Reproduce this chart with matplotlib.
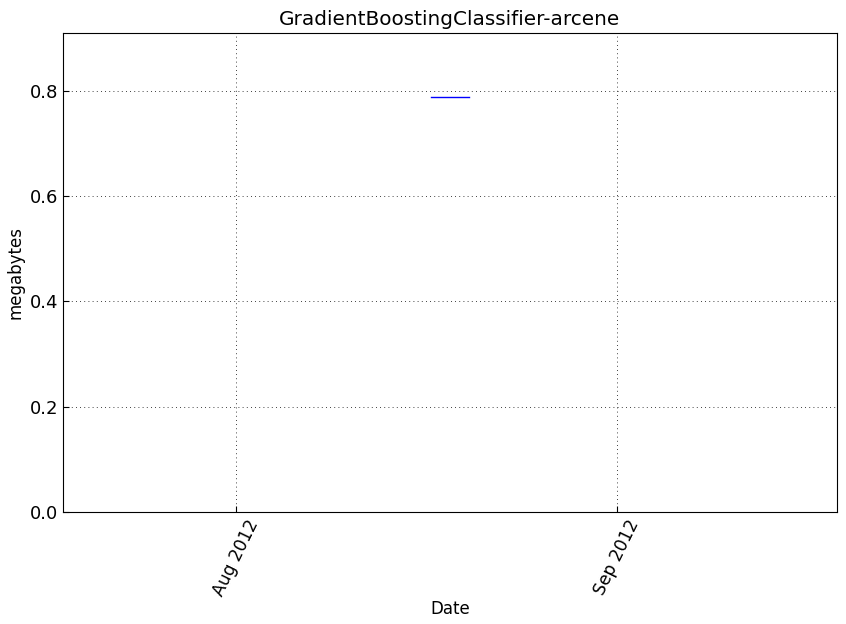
import matplotlib
matplotlib.use("Agg")
import matplotlib.pyplot as plt
import matplotlib.dates as mdates
import pandas as pd

dates = pd.to_datetime(["2012-08-16 20:00", "2012-08-19 23:00"])
values = [0.789, 0.789]
title = "GradientBoostingClassifier-arcene"

fig = plt.figure(figsize=(8.46, 6.24), dpi=100)
ax = fig.add_axes([63/846, 112/624, 774/846, 479/624])
ax.plot(dates, values, color="blue", linewidth=1)
ax.set_xlim(pd.Timestamp("2012-07-17 22:00"), pd.Timestamp("2012-09-18 21:30"))
ax.set_ylim(0, 0.91)
ax.set_yticks([0.0, 0.2, 0.4, 0.6, 0.8])
ax.xaxis.set_major_locator(mdates.MonthLocator())
ax.xaxis.set_major_formatter(mdates.DateFormatter("%b %Y"))
ax.grid(True, color="black", linestyle=(0, (1, 4)), linewidth=0.6)
ax.tick_params(axis="y", direction="in", labelsize=13, length=4)
ax.tick_params(axis="x", direction="in", labelsize=12.3, length=4)
for lab in ax.get_xticklabels():
    lab.set_rotation(64)
    lab.set_ha("center")
ax.set_title(title, fontsize=14.4)
ax.set_xlabel("Date", fontsize=12, labelpad=0.5)
ax.set_ylabel("megabytes", fontsize=12)
fig.savefig("out.png", dpi=100)
